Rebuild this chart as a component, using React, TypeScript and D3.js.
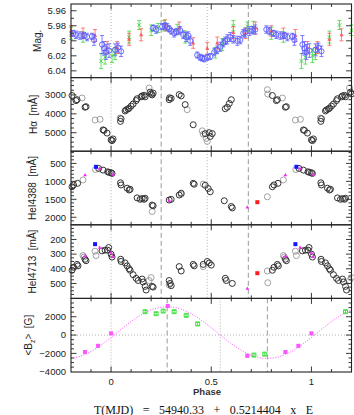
import { useEffect, useRef } from "react";
import * as d3 from "d3";

const W = 354, H = 415;
const plotLeft = 71, plotRight = 351.5, plotTop = 4, plotBottom = 372;
const phaseDomain = [-0.2, 1.2];
const phaseLabels = [0, 0.5, 1];

// V photometry, [phase, mag, err]
const magBlue = [
  [0.02, 6.012, 0.008], [0.035, 6.009, 0.006], [0.05, 6.014, 0.007],
  [0.21, 5.983, 0.004], [0.225, 5.985, 0.005], [0.255, 5.981, 0.004], [0.27, 5.98, 0.004],
  [0.28, 5.982, 0.005], [0.29, 5.984, 0.004], [0.3, 5.987, 0.004], [0.315, 5.99, 0.005],
  [0.325, 5.988, 0.004], [0.345, 5.986, 0.005], [0.36, 5.992, 0.005], [0.375, 5.995, 0.006],
  [0.385, 5.993, 0.005], [0.395, 6.0, 0.006], [0.43, 6.019, 0.004], [0.445, 6.022, 0.004],
  [0.455, 6.023, 0.004], [0.465, 6.024, 0.004], [0.48, 6.022, 0.004], [0.495, 6.021, 0.004],
  [0.515, 6.015, 0.005], [0.53, 6.012, 0.005], [0.545, 6.008, 0.006], [0.56, 6.003, 0.005],
  [0.57, 6.0, 0.005], [0.58, 5.998, 0.006], [0.595, 5.995, 0.006], [0.61, 5.998, 0.005],
  [0.63, 6.0, 0.006], [0.645, 5.999, 0.005], [0.66, 5.99, 0.005], [0.67, 5.989, 0.006],
  [0.69, 5.987, 0.006], [0.705, 5.986, 0.005], [0.72, 5.985, 0.006], [0.775, 5.985, 0.005],
  [0.79, 5.987, 0.005], [0.81, 5.99, 0.004], [0.825, 5.992, 0.005], [0.845, 5.993, 0.005],
  [0.865, 5.993, 0.004], [0.88, 5.995, 0.005], [0.905, 5.994, 0.004], [0.915, 5.999, 0.007],
  [0.955, 6.005, 0.012], [0.965, 6.01, 0.009], [0.975, 6.015, 0.01], [0.99, 6.013, 0.009],
];
const magGreen = [
  [0.005, 6.02, 0.009], [0.02, 6.017, 0.008], [0.09, 5.995, 0.008], [0.14, 5.979, 0.006],
  [0.2, 5.986, 0.007], [0.235, 5.983, 0.006], [0.265, 5.98, 0.007], [0.33, 5.985, 0.007],
  [0.37, 5.995, 0.008], [0.52, 6.016, 0.007], [0.555, 6.005, 0.008], [0.61, 5.98, 0.007],
  [0.68, 5.981, 0.006], [0.71, 5.982, 0.008], [0.8, 5.99, 0.008], [0.86, 5.995, 0.007],
  [0.95, 6.027, 0.01], [0.97, 6.022, 0.009],
];
const magRed = [
  [0.03, 6.009, 0.008], [0.09, 5.998, 0.008], [0.15, 5.992, 0.008], [0.27, 5.979, 0.007],
  [0.34, 5.983, 0.008], [0.41, 6.003, 0.007], [0.48, 6.01, 0.008], [0.53, 6.003, 0.008],
  [0.61, 5.989, 0.008], [0.67, 5.99, 0.007], [0.72, 5.983, 0.008], [0.8, 5.987, 0.007],
  [0.86, 5.99, 0.007], [0.92, 5.993, 0.008], [0.98, 6.009, 0.008],
];

// equivalent widths [phase, mA]; set A and set B are two spectrographs
const haA = [
  [0.0, 5380], [0.005, 5420], [0.01, 5330], [0.047, 4400], [0.05, 4260], [0.07, 3850],
  [0.075, 3790], [0.085, 3740], [0.09, 3700], [0.1, 3590], [0.11, 3480], [0.125, 3300],
  [0.13, 3200], [0.15, 3100], [0.155, 3050], [0.165, 3020], [0.17, 3100], [0.195, 2850],
  [0.2, 2950], [0.205, 3000], [0.21, 2900], [0.29, 3250], [0.292, 3150], [0.3, 3180],
  [0.34, 2980], [0.35, 3050], [0.37, 3510], [0.41, 4580], [0.47, 5050], [0.49, 5000],
  [0.495, 5200], [0.505, 5050], [0.57, 3730], [0.58, 3650], [0.59, 3450], [0.6, 3250],
  [0.805, 3030], [0.825, 3300], [0.83, 3250], [0.87, 3650], [0.875, 3620], [0.96, 4850],
  [0.965, 4880], [0.98, 5020],
];
const haB = [
  [0.045, 4220], [0.19, 2630], [0.38, 3780], [0.455, 4900], [0.46, 5080], [0.475, 5300],
  [0.48, 5460], [0.78, 2720], [0.782, 2950], [0.855, 3160], [0.92, 4330], [0.945, 4290],
];
const he4388A = [
  [0.0, 760], [0.005, 780], [0.047, 1040], [0.05, 1100], [0.08, 1190], [0.09, 1240],
  [0.095, 1220], [0.13, 1460], [0.145, 1500], [0.155, 1480], [0.165, 1500], [0.17, 1470],
  [0.205, 1660], [0.21, 1680], [0.29, 1520], [0.3, 1500], [0.34, 1380], [0.35, 1330],
  [0.41, 1055], [0.415, 1080], [0.47, 1110], [0.485, 1200], [0.495, 1290], [0.565, 1540],
  [0.6, 1700], [0.605, 1740], [0.805, 1150], [0.813, 1100], [0.833, 1055], [0.938, 640],
  [0.96, 686], [0.983, 733], [0.99, 750],
];
const he4388B = [[0.205, 1840], [0.35, 1360], [0.46, 1075], [0.78, 1430], [0.86, 960], [0.922, 670]];
const he4713A = [
  [0.0, 300], [0.005, 320], [0.048, 335], [0.05, 350], [0.07, 360], [0.08, 380], [0.09, 400],
  [0.095, 410], [0.11, 440], [0.125, 465], [0.135, 480], [0.155, 470], [0.16, 490], [0.17, 520],
  [0.175, 545], [0.205, 520], [0.21, 525], [0.29, 480], [0.295, 500], [0.3, 515], [0.34, 385],
  [0.35, 415], [0.41, 370], [0.415, 380], [0.46, 370], [0.48, 350], [0.49, 360], [0.5, 375],
  [0.57, 465], [0.575, 480], [0.605, 500], [0.805, 410], [0.813, 390], [0.83, 370], [0.835, 380],
  [0.87, 335], [0.875, 345], [0.955, 278], [0.97, 273], [0.983, 273], [0.988, 255],
];
const he4713B = [
  [0.19, 480], [0.2, 460], [0.29, 510], [0.46, 385], [0.78, 415], [0.782, 495],
  [0.86, 310], [0.865, 320], [0.92, 280], [0.925, 310],
];
const he4388Blue = [[0.925, 595]];
const he4388Magenta = [[0.87, 825], [0.943, 640], [0.01, 800], [0.29, 1530], [0.68, 1720]];
const he4388Red = [[0.73, 1580]];
const he4713Blue = [[0.92, 232]];
const he4713Magenta = [[0.87, 312], [0.943, 255], [0.0, 289], [0.008, 318], [0.68, 535]];
const he4713Red = [[0.73, 430]];

// longitudinal field [phase, G, err]
const bzMagenta = [[0.0, 180, 120], [0.283, 3170, 150], [0.68, -2260, 150], [0.87, -1850, 150], [0.935, -1170, 130]];
const bzGreen = [
  [0.17, 2550, 130], [0.225, 2330, 130], [0.26, 2620, 130], [0.315, 2550, 130],
  [0.375, 2150, 130], [0.432, 1220, 160], [0.713, -2185, 130], [0.767, -2080, 130],
];
// sine fit  Bz = b0 + b1 cos(2pi(phase - phaseMax))
const bzFit = { b0: 270, b1: 2820, phaseMax: 0.28 };

const specDotted = [0, 0.48];
const specDashed = [0.25, 0.685];
const bzDotted = [0, 0.545];
const bzDashed = [0.28, 0.78];

const font = "'Liberation Sans', Arial, sans-serif";

// repeat phased points one cycle either side inside the window
function cycle(points) {
  const out = [];
  points.forEach((p) => {
    [-1, 0, 1].forEach((k) => {
      const ph = p[0] + k;
      if (ph >= phaseDomain[0] && ph <= phaseDomain[1]) out.push([ph, ...p.slice(1)]);
    });
  });
  return out;
}

function errorBars(g, pts, x, y, color, cap) {
  g.append("g").attr("stroke", color).attr("stroke-width", 0.8).attr("fill", "none")
    .selectAll("path").data(cycle(pts)).join("path")
    .attr("d", (d) => {
      const cx = x(d[0]), ya = y(d[1] - d[2]), yb = y(d[1] + d[2]);
      return `M${cx},${ya}V${yb}M${cx - cap},${ya}H${cx + cap}M${cx - cap},${yb}H${cx + cap}`;
    });
}

function markers(g, pts, x, y, shape, attrs) {
  const paths = {
    circle: (r) => `M${r},0A${r},${r} 0 1,1 ${-r},0A${r},${r} 0 1,1 ${r},0Z`,
    square: (r) => `M${-r},${-r}H${r}V${r}H${-r}Z`,
    triangle: (r) => `M0,${-r * 1.1}L${r},${r * 0.7}L${-r},${r * 0.7}Z`,
    cross: (r) => `M${-r},${-r}L${r},${r}M${-r},${r}L${r},${-r}`,
  };
  const sel = g.append("g").selectAll("path").data(cycle(pts)).join("path")
    .attr("transform", (d) => `translate(${x(d[0])},${y(d[1])})`)
    .attr("d", paths[shape](attrs.r));
  Object.entries(attrs).forEach(([k, v]) => { if (k !== "r") sel.attr(k, v); });
}

function drawPhot(g, x, y) {
  errorBars(g, magGreen, x, y, "#3bd83b", 2);
  markers(g, magGreen, x, y, "cross", { r: 1.8, stroke: "#3bd83b", "stroke-width": 0.9, fill: "none" });
  errorBars(g, magRed, x, y, "#ff5a5a", 2);
  markers(g, magRed, x, y, "triangle", { r: 2, fill: "#ff5a5a" });
  errorBars(g, magBlue, x, y, "#5c5cff", 2);
  markers(g, magBlue, x, y, "circle", { r: 2.6, stroke: "#5c5cff", "stroke-width": 0.9, fill: "none" });
}

function drawSpec(setA, setB, blue, magenta, red) {
  return (g, x, y) => {
    markers(g, setB, x, y, "circle", { r: 3, stroke: "#8a8a8a", "stroke-width": 0.8, fill: "none" });
    markers(g, setA, x, y, "circle", { r: 3, stroke: "#333", "stroke-width": 1, fill: "none" });
    markers(g, blue, x, y, "square", { r: 2, fill: "#1414ff" });
    markers(g, red, x, y, "square", { r: 2, fill: "#ff1c1c" });
    markers(g, magenta, x, y, "triangle", { r: 1.8, fill: "#ff22ff" });
  };
}

function drawBz(g, x, y) {
  g.append("line").attr("x1", plotLeft).attr("x2", plotRight).attr("y1", y(0)).attr("y2", y(0))
    .attr("stroke", "#999").attr("stroke-width", 0.8).attr("stroke-dasharray", "1 2");
  const fit = d3.range(phaseDomain[0], phaseDomain[1] + 1e-9, 0.005)
    .map((p) => [p, bzFit.b0 + bzFit.b1 * Math.cos(2 * Math.PI * (p - bzFit.phaseMax))]);
  g.append("path").attr("d", d3.line().x((d) => x(d[0])).y((d) => y(d[1]))(fit))
    .attr("fill", "none").attr("stroke", "#ff44ff").attr("stroke-width", 1).attr("stroke-dasharray", "1 1.6");
  errorBars(g, bzGreen, x, y, "#33dd33", 1.8);
  markers(g, bzGreen, x, y, "square", { r: 2, stroke: "#33dd33", "stroke-width": 0.9, fill: "none" });
  errorBars(g, bzMagenta, x, y, "#ff55ff", 1.8);
  markers(g, bzMagenta, x, y, "square", { r: 2, fill: "#ff55ff" });
}

const panels = [
  { title: ["Mag."], tx: 40.5, domain: [5.951, 6.049], ticks: [5.96, 5.98, 6, 6.02, 6.04], minor: 0.01,
    dotted: specDotted, dashed: specDashed, draw: drawPhot },
  { title: ["H\u03b1  [m\u00c5]"], tx: 36.5, domain: [2080, 5980], ticks: [3000, 4000, 5000], minor: 250,
    dotted: specDotted, dashed: specDashed, draw: drawSpec(haA, haB, [], [], []) },
  { title: ["HeI4388  [m\u00c5]"], tx: 35.5, domain: [160, 2210], ticks: [500, 1000, 1500, 2000], minor: 100,
    dotted: specDotted, dashed: specDashed, draw: drawSpec(he4388A, he4388B, he4388Blue, he4388Magenta, he4388Red) },
  { title: ["HeI4713  [m\u00c5]"], tx: 35.5, domain: [100, 602], ticks: [200, 300, 400, 500], minor: 25,
    dotted: specDotted, dashed: specDashed, draw: drawSpec(he4713A, he4713B, he4713Blue, he4713Magenta, he4713Red) },
  { title: ["<B", "z", ">  [G]"], tx: 32, domain: [4000, -4030], ticks: [2000, 0, -2000, -4000], minor: 500,
    dotted: bzDotted, dashed: bzDashed, draw: drawBz },
];

function fmt(v) {
  const s = String(+v.toFixed(3));
  return s.replace("-", "\u2212");
}

function drawChart(node) {
  const svg = d3.select(node);
  svg.selectAll("*").remove();
  svg.append("rect").attr("width", W).attr("height", H).attr("fill", "#fff");
  const x = d3.scaleLinear().domain(phaseDomain).range([plotLeft, plotRight]);
  const panelH = (plotBottom - plotTop) / panels.length;

  panels.forEach((p, i) => {
    const y0 = plotTop + i * panelH, y1 = y0 + panelH;
    const y = d3.scaleLinear().domain(p.domain).range([y0, y1]);
    const g = svg.append("g");

    p.dotted.forEach((v) => g.append("line").attr("x1", x(v)).attr("x2", x(v)).attr("y1", y0).attr("y2", y1)
      .attr("stroke", "#aaa").attr("stroke-width", 0.9).attr("stroke-dasharray", "1 2"));
    p.dashed.forEach((v) => g.append("line").attr("x1", x(v)).attr("x2", x(v)).attr("y1", y0).attr("y2", y1)
      .attr("stroke", "#999").attr("stroke-width", 1).attr("stroke-dasharray", "5 3"));

    p.draw(g, x, y);

    // frame and inward ticks
    const axis = g.append("g").attr("stroke", "#222").attr("fill", "none");
    axis.append("rect").attr("x", plotLeft).attr("y", y0).attr("width", plotRight - plotLeft)
      .attr("height", y1 - y0).attr("stroke-width", 1.1);
    let d = "";
    for (let k = -1; k <= 11; k++) {
      const v = k / 10;
      const len = Math.abs(v * 2 - Math.round(v * 2)) < 1e-6 ? 5.5 : 3;
      const px = x(v);
      d += `M${px},${y0}v${len}M${px},${y1}v${-len}`;
    }
    const lo = Math.min(...p.domain), hi = Math.max(...p.domain);
    for (let k = Math.ceil(lo / p.minor - 1e-6); k <= Math.floor(hi / p.minor + 1e-6); k++) {
      const v = k * p.minor;
      const py = y(v);
      if (Math.abs(py - y0) < 0.5 || Math.abs(py - y1) < 0.5) continue;
      const len = p.ticks.some((t) => Math.abs(t - v) < p.minor / 10) ? 5.5 : 3;
      d += `M${plotLeft},${py}h${len}M${plotRight},${py}h${-len}`;
    }
    axis.append("path").attr("d", d).attr("stroke-width", 0.9);

    g.append("g").attr("font-family", font).attr("font-size", 9.5).attr("fill", "#222")
      .attr("text-anchor", "end")
      .selectAll("text").data(p.ticks).join("text")
      .attr("x", plotLeft - 5).attr("y", (v) => y(v)).attr("dy", "0.35em").text(fmt);

    const title = g.append("text").attr("font-family", font).attr("font-size", 10).attr("fill", "#222")
      .attr("text-anchor", "middle").attr("xml:space", "preserve")
      .attr("transform", `translate(${p.tx},${(y0 + y1) / 2}) rotate(-90)`);
    title.append("tspan").text(p.title[0]);
    if (p.title.length > 1) {
      title.append("tspan").attr("font-size", 7).attr("dy", 2.5).text(p.title[1]);
      title.append("tspan").attr("dy", -2.5).text(p.title[2]);
    }
  });

  svg.append("g").attr("font-family", font).attr("font-size", 9.5).attr("fill", "#222")
    .attr("text-anchor", "middle")
    .selectAll("text").data(phaseLabels).join("text")
    .attr("x", (v) => x(v)).attr("y", plotBottom + 13).text((v) => String(v));

  svg.append("text").attr("x", 207).attr("y", 395).attr("text-anchor", "middle")
    .attr("font-family", font).attr("font-size", 9.5).attr("font-weight", "bold").attr("fill", "#333")
    .text("Phase");

  svg.append("text").attr("x", 203.5).attr("y", 413.5).attr("text-anchor", "middle")
    .attr("font-family", "'Liberation Serif', 'Times New Roman', serif").attr("font-size", 12)
    .attr("word-spacing", 6.5).attr("fill", "#111")
    .text("T(MJD) = 54940.33 + 0.5214404 x E");
}

export default function App() {
  const svgRef = useRef(null);
  useEffect(() => {
    drawChart(svgRef.current);
  }, []);
  return (
    <svg ref={svgRef} width={W} height={H}
      style={{ position: "absolute", left: 0, top: 0, display: "block" }} />
  );
}
